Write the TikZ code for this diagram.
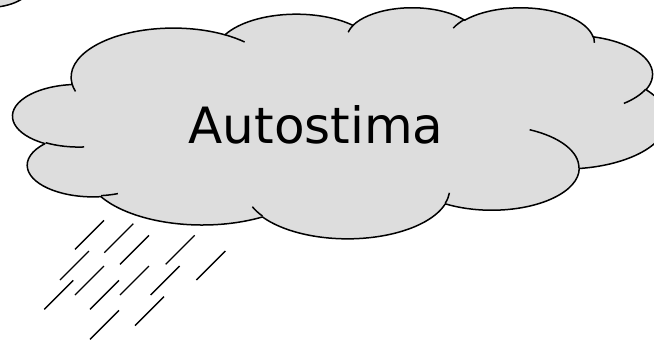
\documentclass[tikz,border=0pt]{standalone}
\usepackage{fontspec}
\setmainfont{DejaVu Sans}
\definecolor{cloudfill}{RGB}{221,221,221}

% \lobearc{style}{wR}{hR}{start}{sweep}: an elliptic arc given by its
% radii and by its start and sweep as angles seen on the ellipse;
% they are turned into the parametric angles that TikZ's arc expects.
\newcommand\lobearc[5]{%
  \pgfmathsetmacro\lobeA{atan2(#2*sin(#4),#3*cos(#4))}%
  \pgfmathsetmacro\lobeB{atan2(#2*sin(#4+#5),#3*cos(#4+#5))}%
  \pgfmathsetmacro\lobeD{\lobeB-\lobeA}%
  \pgfmathsetmacro\lobeD{\lobeD+360*round((#5-\lobeD)/360)}%
  \edef\lobetmp{\noexpand\tikzset{#1/.style={start angle=\lobeA,
      delta angle=\lobeD, x radius=#2, y radius=#3}}}%
  \lobetmp}

% outline lobes
\lobearc{lobeB}{67.53}{91.90}{-190.48748}{123.78053}
\lobearc{lobeK}{53.33}{72.67}{-144.10238}{89.94523}
\lobearc{lobeJ}{43.65}{59.45}{-145.80792}{99.72302}
\lobearc{lobeI}{48.57}{65.95}{-130.98607}{117.24173}
\lobearc{lobeH}{53.33}{72.73}{-78.70888}{109.02692}
\lobearc{lobeG}{67.75}{92.20}{-46.26725}{130.26900}
\lobearc{lobeF}{57.85}{78.67}{0.62502}{114.03333}
\lobearc{lobeE}{67.52}{92.15}{22.45160}{115.17255}
\lobearc{lobeD}{77.20}{105.43}{66.24263}{75.71102}
\lobearc{lobeC}{43.60}{59.18}{-274.94208}{146.73557}
\lobearc{lobeA}{43.45}{59.45}{-246.82850}{152.51885}
% inner creases between lobes
\lobearc{creaseA}{43.45}{59.45}{86.74200}{26.42950}
\lobearc{creaseC}{43.60}{59.18}{73.61047}{11.44747}
\lobearc{creaseD}{67.52}{92.15}{137.62415}{14.08110}
\lobearc{creaseE}{67.52}{92.15}{6.45327}{15.99835}
\lobearc{creaseF}{57.85}{78.67}{-70.29235}{70.91737}
\lobearc{creaseG}{53.33}{72.73}{30.31803}{27.75150}
\lobearc{creaseH}{48.57}{65.95}{-13.74433}{14.85890}
\lobearc{creaseI}{48.57}{65.95}{-149.18145}{18.19537}
\lobearc{creaseJ}{43.65}{59.45}{-163.49427}{17.68635}
\lobearc{creaseK}{67.53}{91.90}{-66.70695}{12.31935}
\lobearc{creaseB}{67.53}{91.90}{157.65435}{11.85817}

\begin{document}
\begin{tikzpicture}[x=1pt, y=1pt,
    outline/.style={line width=1.5pt, black, line join=round},
    rain/.style={line width=1.4pt, black}]
  \useasboundingbox (0,0) rectangle (654,-340);
  \clip (0,0) rectangle (654,-340);

  % corner of a neighbouring cloud
  \fill[cloudfill] (-2,2) -- (-2,-6.9) .. controls (8,-5.6) and (16,-3) .. (23.5,2) -- cycle;
  \draw[outline] (-2,-6.9) .. controls (8,-5.6) and (16,-3) .. (23.5,2);

  % rain
  \foreach \rx/\ry in {75/249.3, 104.3/252.7, 120/264.3, 165.7/264.3,
      196.3/280, 60/280, 75/295, 120/295, 150.7/295, 44.3/309.3,
      90/309.3, 135/325.7, 90/339.3}
    \draw[rain] (\rx,-\ry) -- ++(29,29);

  % the cloud, in a 432 x 432 frame
  \begin{scope}[shift={(13,-7)}, x=1.51389pt, y={(0pt,-0.53472pt)}]
    \draw[outline, fill=cloudfill] (39.00,143.70)
      arc[lobeB] arc[lobeK] arc[lobeJ] arc[lobeI] arc[lobeH] arc[lobeG]
      arc[lobeF] arc[lobeE] arc[lobeD] arc[lobeC] arc[lobeA] -- cycle;
    \draw[outline]
      (46.93,261.77) arc[creaseA]
      (69.28,348.99) arc[creaseC]
      (164.78,390.90) arc[creaseD]
      (288.27,347.51) arc[creaseE]
      (341.29,229.54) arc[creaseF]
      (417.98,153.54) arc[creaseG]
      (383.24,54.26) arc[creaseH]
      (290.78,39.52) arc[creaseI]
      (221.41,47.20) arc[creaseJ]
      (140.00,51.92) arc[creaseK]
      (41.27,157.89) arc[creaseB];
  \end{scope}

  \node[font=\fontsize{50}{60}\selectfont, anchor=base, inner sep=0pt]
    (label) at (316,-143.3) {Autostima};
\end{tikzpicture}
\end{document}
